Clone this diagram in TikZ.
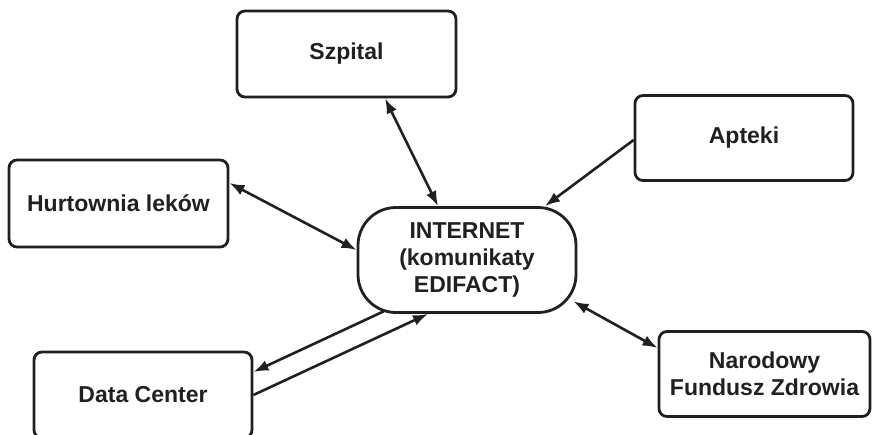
\documentclass[tikz,border=0pt]{standalone}
\usepackage{fontspec}
\setmainfont{Liberation Sans}
\usetikzlibrary{arrows.meta,calc}
\definecolor{ink}{RGB}{35,31,32}

\begin{document}
\begin{tikzpicture}[x=1pt,y=-1pt,
    box/.style={draw=ink,line width=2.8pt,rounded corners=8pt,minimum width=218pt,minimum height=85pt,
      align=center,text=ink,inner sep=2pt,font=\fontsize{23}{27}\selectfont\bfseries},
    hub/.style={box,rounded corners=38pt,minimum height=105pt},
    link/.style={draw=ink,line width=2.6pt,-{Latex[length=15pt,width=11pt]}},
    both/.style={link,{Latex[length=15pt,width=11pt]}-{Latex[length=15pt,width=11pt]}}]
  \useasboundingbox (0,0) rectangle (873,434);
  % the hub and the five partners round it
  \node[hub] (net) at (467,260) {INTERNET\\(komunikaty\\EDIFACT)};
  \node[box,minimum width=219pt,minimum height=86pt] (szp) at (346.5,54) {Szpital};
  \node[box] (apt) at (744,138) {Apteki};
  \node[box,minimum width=219pt,minimum height=87pt] (hurt) at (118.5,203.5) {Hurtownia leków};
  \node[box,minimum height=86pt] (dc) at (143,395) {Data Center};
  \node[box,minimum width=211pt] (nfz) at (764.5,374) {Narodowy\\Fundusz Zdrowia};
  % connectors
  \draw[both] ($(szp.south)+(38.5,0)$) -- ($(net.north)+(-29,0)$);
  \draw[link] ($(apt.west)+(0,2)$) -- ($(net.north)+(78,0)$);
  \draw[both] ($(hurt.east)+(0,-20.5)$) -- ($(net.west)+(0,-10)$);
  \draw[both] ($(net.south east)+(-4,-12.5)$) -- ($(nfz.west)+(0,-26)$);
  \draw[link] ($(net.south west)+(27,-2.5)$) -- ($(dc.east)+(0,-23)$);
  \draw[link] (dc.east) -- ($(net.south)+(-39,0)$);
\end{tikzpicture}
\end{document}
